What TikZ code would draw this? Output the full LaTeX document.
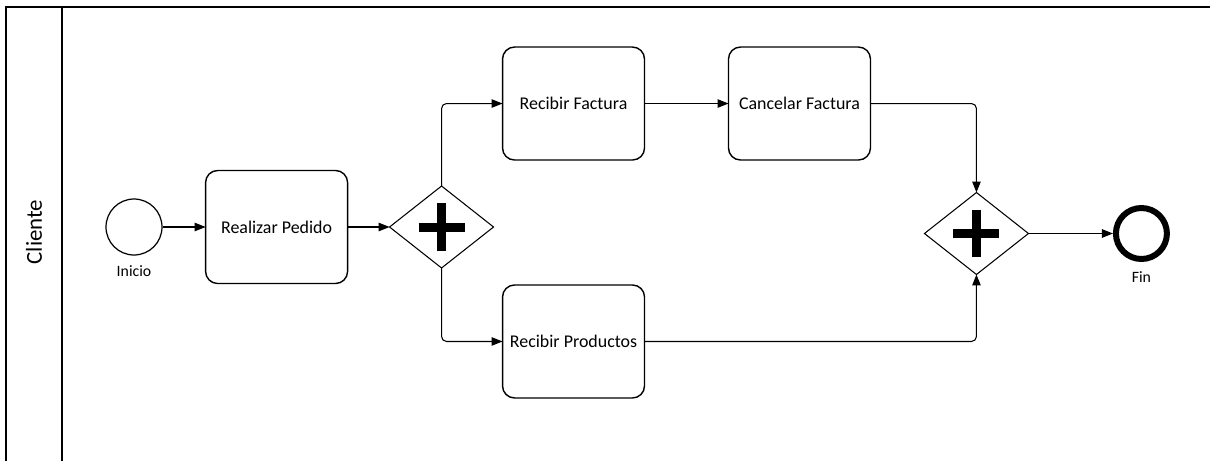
\documentclass[tikz,border=0pt]{standalone}
\usepackage{fontspec}
\setmainfont{Carlito}
\usetikzlibrary{shapes.geometric, arrows.meta, positioning}

\begin{document}
\begin{tikzpicture}[
        x=0.02cm, y=-0.02cm,
        node distance=1cm,
        task/.style={
            rectangle, draw=black, line width=0.8pt, rounded corners=0.24cm,
            minimum width=2.84cm, minimum height=2.26cm, align=center,
            outer sep=0pt, font=\fontsize{10.2}{12}\selectfont
        },
        gateway/.style={
            diamond, draw=black, line width=0.6pt, fill=white,
            minimum width=2.08cm, minimum height=1.64cm, inner sep=0pt, outer sep=0pt,
            path picture={
                \draw[line width=0.18cm]
                    ([xshift=-0.46cm]path picture bounding box.center) -- ([xshift=0.46cm]path picture bounding box.center)
                    ([yshift=-0.48cm]path picture bounding box.center) -- ([yshift=0.48cm]path picture bounding box.center);
            }
        },
        startev/.style={circle, draw, line width=0.7pt, minimum size=1.12cm, inner sep=0pt},
        endev/.style={circle, draw, line width=0.12cm, minimum size=1.02cm, inner sep=0pt},
        evlabel/.style={font=\fontsize{9}{10}\selectfont},
        flow/.style={-{Triangle[length=2.2mm, width=1.7mm]}, line width=0.6pt, rounded corners=0.1cm}
    ]
        \clip (0,0) rectangle (1210,460);

        % Pool and lane
        \draw[line width=1.1pt] (6,7) rectangle (1240,490);
        \draw[line width=0.8pt] (62,7) -- (62,490);
        \node[rotate=90, font=\fontsize{13}{15}\selectfont] (cliente) at (34,232) {Cliente};

        % Start
        \node[startev] (inicio) at (134,227) {};
        \node[evlabel, below=0.08cm of inicio] (inicioLbl) {Inicio};
        \node[task, right=0.86cm of inicio] (pedido) {Realizar Pedido};
        \node[gateway, right=0.84cm of pedido] (split) {};

        % Upper branch
        \node[task, above right=1.34cm and 0.18cm of split.east] (factura) {Recibir Factura};
        \node[task, right=1.68cm of factura] (cancelar) {Cancelar Factura};

        % Lower branch
        \node[task, below right=1.16cm and 0.18cm of split.east] (productos) {Recibir Productos};

        % Join and end
        \node[gateway, right=8.62cm of split, yshift=-0.13cm] (join) {};
        \node[endev, right=1.69cm of join] (fin) {};
        \node[evlabel, below=0.07cm of fin] (finLbl) {Fin};

        % Sequence flows
        \draw[flow] (inicio) -- (pedido);
        \draw[flow] (pedido) -- (split);
        \draw[flow] (split.north) |- (factura.west);
        \draw[flow] (split.south) |- (productos.west);
        \draw[flow] (factura) -- (cancelar);
        \draw[flow] (cancelar.east) -| (join.north);
        \draw[flow] (productos.east) -| (join.south);
        \draw[flow] (join) -- (fin);

    \end{tikzpicture}
\end{document}
